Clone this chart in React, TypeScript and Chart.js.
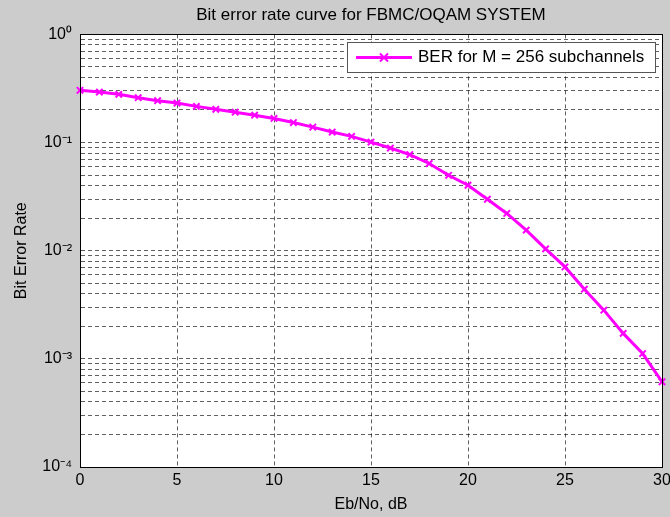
import React, { useEffect, useRef } from "react";
import { Chart, registerables } from "chart.js";

Chart.register(...registerables);

const TITLE = "Bit error rate curve for FBMC/OQAM SYSTEM";
const X_TITLE = "Eb/No, dB";
const Y_TITLE = "Bit Error Rate";
const SERIES_LABEL = "BER for M = 256 subchannels";

const ebNo: number[] = [
  0, 1, 2, 3, 4, 5, 6, 7, 8, 9, 10, 11, 12, 13, 14, 15, 16, 17, 18, 19, 20,
  21, 22, 23, 24, 25, 26, 27, 28, 29, 30,
];
const ber: number[] = [
  0.304, 0.293, 0.279, 0.26, 0.244, 0.232, 0.216, 0.203, 0.191, 0.179, 0.167,
  0.153, 0.139, 0.125, 0.114, 0.101, 0.089, 0.0774, 0.064, 0.0498, 0.0403,
  0.0299, 0.0221, 0.0155, 0.0104, 0.00708, 0.00441, 0.00282, 0.00172, 0.00112,
  0.000614,
];

const xTickValues: number[] = [0, 5, 10, 15, 20, 25, 30];
const yDecades: number[] = [-4, -3, -2, -1];
const yMantissas: number[] = [1, 2, 3, 4, 5, 6, 7, 8, 9];

const FONT = "'Liberation Sans', Arial, Helvetica, sans-serif";
const SUP: Record<string, string> = {
  "-": "\u207B",
  "0": "\u2070",
  "1": "\u00B9",
  "2": "\u00B2",
  "3": "\u00B3",
  "4": "\u2074",
};

function buildYTicks(): number[] {
  const t: number[] = [];
  for (const e of yDecades) {
    for (const m of yMantissas) t.push(m * Math.pow(10, e));
  }
  t.push(1);
  return t;
}

const bgPlugin = {
  id: "bgPlugin",
  beforeDraw(chart: any) {
    const { ctx, chartArea } = chart;
    ctx.save();
    ctx.fillStyle = "#cccccc";
    ctx.fillRect(0, 0, chart.width, chart.height);
    ctx.fillStyle = "#ffffff";
    ctx.fillRect(
      chartArea.left,
      chartArea.top,
      chartArea.right - chartArea.left,
      chartArea.bottom - chartArea.top
    );
    ctx.restore();
  },
  afterDraw(chart: any) {
    const { ctx, chartArea } = chart;
    ctx.save();
    ctx.strokeStyle = "#000";
    ctx.lineWidth = 1;
    ctx.setLineDash([]);
    ctx.strokeRect(
      Math.round(chartArea.left) + 0.5,
      Math.round(chartArea.top) + 0.5,
      Math.round(chartArea.right - chartArea.left),
      Math.round(chartArea.bottom - chartArea.top)
    );
    // legend
    const bx = 347;
    const by = 42;
    const bw = 308;
    const bh = 30;
    ctx.fillStyle = "#ffffff";
    ctx.fillRect(bx, by, bw, bh);
    ctx.strokeStyle = "#555";
    ctx.strokeRect(bx + 0.5, by + 0.5, bw, bh);
    const ly = by + bh / 2 + 0.5;
    ctx.strokeStyle = "#ff00ff";
    ctx.lineWidth = 3;
    ctx.beginPath();
    ctx.moveTo(bx + 9, ly);
    ctx.lineTo(bx + 65, ly);
    ctx.stroke();
    const mx = bx + 37;
    ctx.lineWidth = 2;
    ctx.beginPath();
    ctx.moveTo(mx - 4, ly - 4);
    ctx.lineTo(mx + 4, ly + 4);
    ctx.moveTo(mx - 4, ly + 4);
    ctx.lineTo(mx + 4, ly - 4);
    ctx.stroke();
    ctx.fillStyle = "#000";
    ctx.font = `17px ${FONT}`;
    ctx.textBaseline = "middle";
    ctx.textAlign = "left";
    const label = chart.data.datasets[0].label as string;
    ctx.fillText(label, bx + 71, ly);
    ctx.restore();
  },
};

export default function App() {
  const ref = useRef<HTMLCanvasElement | null>(null);

  useEffect(() => {
    if (!ref.current) return;
    const yTicks = buildYTicks();
    const gridColor = "rgba(0,0,0,0.62)";
    const chart = new Chart(ref.current, {
      type: "line",
      data: {
        datasets: [
          {
            label: SERIES_LABEL,
            data: ebNo.map((x, i) => ({ x, y: ber[i] })),
            borderColor: "#ff00ff",
            backgroundColor: "#ff00ff",
            borderWidth: 3,
            pointStyle: "crossRot",
            pointRadius: 4.5,
            pointBorderWidth: 2,
            pointBorderColor: "#ff00ff",
            tension: 0,
            fill: false,
            clip: false as any,
          },
        ],
      },
      options: {
        animation: false,
        responsive: false,
        maintainAspectRatio: false,
        layout: { padding: { left: 0, right: 28, top: 0, bottom: 0 } },
        plugins: {
          legend: { display: false },
          tooltip: { enabled: false },
          title: {
            display: true,
            text: TITLE,
            fullSize: false,
            color: "#000",
            font: { family: FONT, size: 17, weight: "normal" },
            padding: { top: 5, bottom: 9 },
          },
        },
        scales: {
          x: {
            type: "linear",
            min: 0,
            max: 30,
            afterBuildTicks: (s: any) => {
              s.ticks = xTickValues.map((v) => ({ value: v }));
            },
            afterFit: (s: any) => {
              s.height = 50;
            },
            ticks: {
              color: "#000",
              padding: 4,
              maxRotation: 0,
              autoSkip: false,
              font: { family: FONT, size: 16 },
            },
            grid: {
              color: gridColor,
              lineWidth: 1,
              drawTicks: false,
            },
            border: { display: true, color: "#000", dash: [4, 3] },
            title: {
              display: true,
              text: X_TITLE,
              color: "#000",
              font: { family: FONT, size: 16 },
              padding: { top: 2, bottom: 3 },
            },
          },
          y: {
            type: "logarithmic",
            min: 1e-4,
            max: 1,
            afterBuildTicks: (s: any) => {
              s.ticks = yTicks.map((v) => ({ value: v }));
            },
            afterFit: (s: any) => {
              s.width = 80;
            },
            ticks: {
              color: "#000",
              padding: 8,
              autoSkip: false,
              font: { family: FONT, size: 16 },
              callback: (value: any) => {
                const v = Number(value);
                const lg = Math.log10(v);
                const r = Math.round(lg);
                if (Math.abs(lg - r) > 1e-6) return "";
                const exp = String(r)
                  .split("")
                  .map((c) => SUP[c] ?? c)
                  .join("");
                return "10" + exp;
              },
            },
            grid: {
              color: gridColor,
              lineWidth: 1,
              drawTicks: false,
            },
            border: { display: true, color: "#000", dash: [4, 3] },
            title: {
              display: true,
              text: Y_TITLE,
              color: "#000",
              font: { family: FONT, size: 16 },
              padding: { top: 12, bottom: 0 },
            },
          },
        },
      },
      plugins: [bgPlugin],
    });
    return () => chart.destroy();
  }, []);

  return (
    <div
      style={{
        position: "absolute",
        left: 0,
        top: 0,
        width: 670,
        height: 517,
        overflow: "hidden",
        background: "#cccccc",
      }}
    >
      <canvas
        ref={ref}
        width={690}
        height={517}
        style={{ display: "block", width: 690, height: 517 }}
      />
    </div>
  );
}
